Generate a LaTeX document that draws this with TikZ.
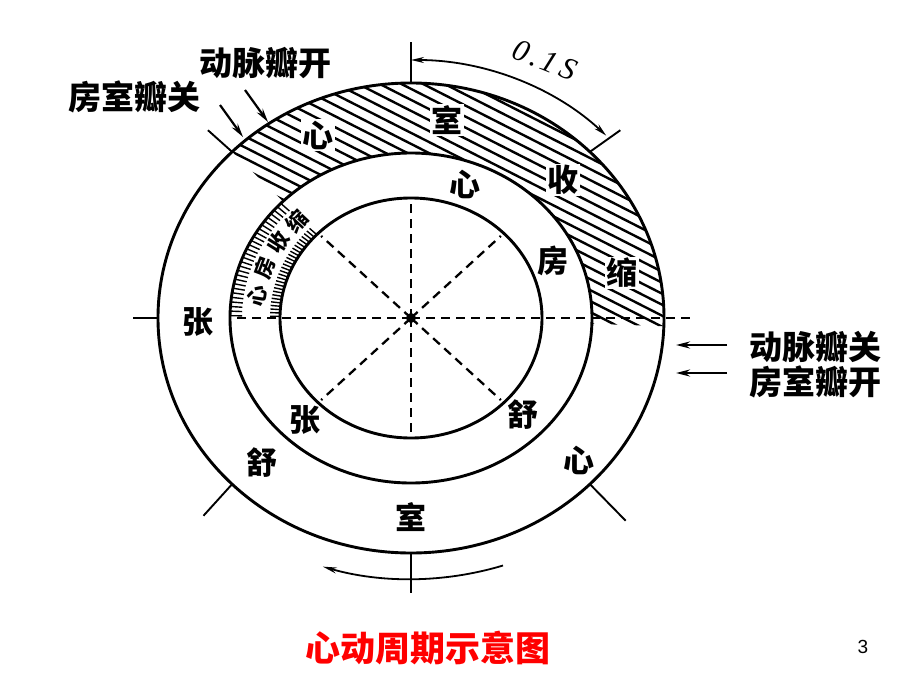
\documentclass[tikz,border=0pt]{standalone}
\usepackage{fontspec}
\newfontfamily\cjk{Noto Sans CJK SC}
\newfontfamily\pnum{Liberation Sans}
\newfontfamily\dimfont{Liberation Serif}
\usetikzlibrary{arrows.meta}
\begin{document}
\begin{tikzpicture}[x=1pt,y=-1pt,
  ring/.style={line width=2.9pt},
  dsh/.style={line width=2.3pt, dash pattern=on 9pt off 6pt},
  tickline/.style={line width=1.9pt},
  hatchline/.style={line width=2.4pt},
  comb/.style={line width=1.4pt},
  lbl/.style={font=\cjk\bfseries\fontsize{31}{31}\selectfont, inner sep=1.5pt},
  wlbl/.style={lbl, fill=white},
  small/.style={font=\cjk\bfseries\fontsize{21}{21}\selectfont, inner sep=0pt},
  side/.style={font=\cjk\bfseries\fontsize{33}{33}\selectfont, inner sep=0pt},
  ptr/.style={line width=2.2pt, -{Stealth[length=14pt,width=7pt]}},
  dim/.style={line width=1.8pt, {Stealth[length=13pt,width=6pt]}-{Stealth[length=13pt,width=6pt]}},
]
\def\CX{411}\def\CY{318}
\useasboundingbox (0,0) rectangle (920,690);
\fill[white] (0,0) rectangle (920,690);
\coordinate (C) at (\CX,\CY);
% ventricular systole: hatched band
\begin{scope}
  \clip ({\CX+253*cos(135)},{\CY-235*sin(135)})
     arc[start angle=-135, end angle=2, x radius=253, y radius=235]
     -- ({\CX+181*cos(2)},{\CY+165*sin(2)})
     arc[start angle=2, end angle=-135, x radius=181, y radius=165] -- cycle;
  \foreach \k in {-17,...,28}
    \draw[hatchline] (150,{\k*11}) -- (700,{\k*11+280});
\end{scope}
% atrial systole: comb band
\foreach \t in {136,137.6,...,180.5} {
  \draw[comb] ({\CX+181*cos(\t)},{\CY-165*sin(\t)}) -- ({\CX+169*cos(\t)},{\CY-154*sin(\t)});
  \draw[comb] ({\CX+131*cos(\t)},{\CY-120*sin(\t)}) -- ({\CX+141*cos(\t)},{\CY-129*sin(\t)});
}
\foreach \ch/\a [count=\i] in {心/171, 房/159.5, 收/148, 缩/137} {
  \node[small, rotate=\a-90] (atr\i) at ({\CX+156*cos(\a)},{\CY-142*sin(\a)}) {\ch};
}
% labels in hatched band
\node[wlbl] (v1) at (318,135) {心};
\node[wlbl] (v2) at (447,120) {室};
\node[wlbl] (v3) at (563,180) {收};
\node[wlbl] (v4) at (622,273) {缩};
% rings
\draw[ring] (C) ellipse [x radius=253, y radius=235];
\draw[ring] (C) ellipse [x radius=181, y radius=165];
\draw[ring] (C) ellipse [x radius=131, y radius=120];
% dashed radii
\coordinate (dU) at (\CX,199);
\coordinate (dD) at (\CX,437);
\coordinate (dL) at (233,\CY);
\coordinate (dR) at (690,\CY);
\draw[dsh] (C) -- (dU);
\draw[dsh] (C) -- (dD);
\draw[dsh] (C) -- (dL);
\draw[dsh] (C) -- (dR);
\foreach \a in {45,135,225,315} {
  \coordinate (dg\a) at ({\CX+127*cos(\a)},{\CY-116*sin(\a)});
  \draw[dsh] (C) -- (dg\a);
}
\fill (C) circle (5);
% ticks on the outer ring
\coordinate (t90a) at (\CX,83);   \coordinate (t90b) at (\CX,42);
\coordinate (t45a) at ({\CX+253*cos(45)},{\CY-235*sin(45)});
\coordinate (t45b) at ({\CX+253*1.17*cos(45)},{\CY-235*1.13*sin(45)});
\coordinate (t135a) at ({\CX+253*cos(135)},{\CY-235*sin(135)});
\coordinate (t135b) at ({\CX+253*1.135*cos(135)},{\CY-235*1.13*sin(135)});
\coordinate (t180a) at (158,\CY); \coordinate (t180b) at (133,\CY);
\coordinate (t225a) at ({\CX+253*cos(225)},{\CY-235*sin(225)});
\coordinate (t225b) at ({\CX+253*1.16*cos(225)},{\CY-235*1.19*sin(225)});
\coordinate (t315a) at ({\CX+253*cos(315)},{\CY-235*sin(315)});
\coordinate (t315b) at ({\CX+253*1.2*cos(315)},{\CY-235*1.22*sin(315)});
\coordinate (t270a) at (\CX,553); \coordinate (t270b) at (\CX,593);
\foreach \p in {90,45,135,180,225,315,270}
  \draw[tickline] (t\p a) -- (t\p b);
% 0.1S dimension arc
\coordinate (s0) at (\CX,60);
\draw[dim] (s0) arc[start angle=-90, end angle=-45, x radius=276, y radius=258];
\node[font=\dimfont\itshape\fontsize{31}{31}\selectfont, rotate=-22, inner sep=0pt] (dur) at (545,60) {0\kern3pt.\kern3pt1\kern5pt S};
% direction arrow at the bottom
\coordinate (b0) at ({\CX+290*cos(71.5)},{\CY+261*sin(71.5)});
\draw[line width=1.8pt, -{Stealth[length=14pt,width=6pt]}] (b0) arc[start angle=71.5, end angle=107.7, x radius=290, y radius=261];
% other ring labels
\node[lbl] (m1) at (465,184) {心};
\node[lbl] (m2) at (553,261) {房};
\node[lbl] (m3) at (523,415) {舒};
\node[lbl] (m4) at (305,420) {张};
\node[lbl] (o1) at (198,322) {张};
\node[lbl] (o2) at (262,463) {舒};
\node[lbl] (o3) at (411,517) {室};
\node[lbl] (o4) at (579,460) {心};
% valve labels and pointers
\node[side] (avo) at (265,63) {动脉瓣开};
\node[side] (mvc) at (134,97) {房室瓣关};
\node[side] (avc) at (815,347) {动脉瓣关};
\node[side] (mvo) at (815,382) {房室瓣开};
\coordinate (pa1) at (245,90);  \coordinate (pa2) at (268,122);
\coordinate (pb1) at (220,105); \coordinate (pb2) at (243,137);
\coordinate (pc1) at (727,345); \coordinate (pc2) at (676,345);
\coordinate (pd1) at (727,373); \coordinate (pd2) at (676,373);
\draw[ptr] (pa1) -- (pa2);
\draw[ptr] (pb1) -- (pb2);
\draw[ptr] (pc1) -- (pc2);
\draw[ptr] (pd1) -- (pd2);
% title and page number
\node[font=\cjk\bfseries\fontsize{35}{35}\selectfont, text=red] (title) at (428,648) {心动周期示意图};
\node[font=\pnum\fontsize{19}{19}\selectfont] (pg) at (863,647) {3};
\end{tikzpicture}
\end{document}
